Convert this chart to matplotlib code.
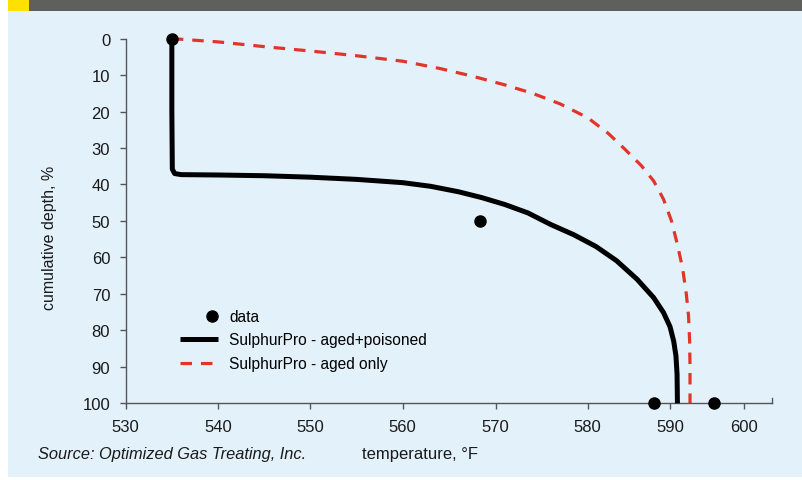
import numpy as np
import matplotlib.pyplot as plt
from matplotlib.patches import Rectangle
from matplotlib.legend_handler import HandlerLine2D

plt.rcParams['font.family'] = ['Liberation Sans', 'DejaVu Sans']

# measured points
data_temp = [535.0, 568.3, 588.0, 596.0]
data_depth = [0, 50, 100, 100]

# SulphurPro - aged+poisoned
poisoned_temp = [535.0, 535.0, 535.05, 535.3, 536, 540, 545, 550, 555, 560, 563,
                 566, 568.5, 571, 573.5, 576, 578.5, 581, 583.5, 586, 588, 589.2,
                 590.0, 590.5, 590.8, 590.95, 591.0]
poisoned_depth = [0, 20, 35.8, 37.0, 37.3, 37.4, 37.6, 38.0, 38.6, 39.5, 40.5,
                  42.0, 43.6, 45.5, 47.8, 51.0, 53.8, 57.0, 60.9, 66.0, 71.0, 75.1,
                  79.0, 83.0, 87.0, 92.0, 100]

# SulphurPro - aged only
aged_temp = [535, 540, 545, 550, 555, 560, 564, 567.5, 571, 574, 577, 580, 582.5,
             584.5, 586.5, 588, 589.2, 590.2, 591.0, 591.7, 592.2, 592.5, 592.65,
             592.7, 592.7]
aged_depth = [0, 0.9, 2.2, 3.4, 4.7, 6.2, 8.2, 10.3, 12.7, 15.0, 17.9, 21.7, 26.0,
              30.3, 34.8, 39.0, 44.0, 50.0, 56.5, 63, 70, 76, 83, 90, 100]

xticks = [530, 540, 550, 560, 570, 580, 590, 600]
yticks = [0, 10, 20, 30, 40, 50, 60, 70, 80, 90, 100]

# the original temperature axis is not evenly spaced, so map it piecewise
scale_vals = [400] + xticks + [700]
scale_pos = [125.7 - 13 * 92.3, 125.7, 218, 310.3, 402.7, 495.7, 587.7, 670, 744, 744 + 10 * 74]

def fwd(v):
    return np.interp(v, scale_vals, scale_pos)

def inv(p):
    return np.interp(p, scale_pos, scale_vals)


class RightDot(HandlerLine2D):
    # legend dot sits towards the right end of the handle
    def get_xdata(self, legend, xdescent, ydescent, width, height, fontsize):
        x = -xdescent + 0.84 * width
        return [x, x], [x]


W, H = 803, 481
fig = plt.figure(figsize=(W / 100, H / 100), dpi=100)
fig.patch.set_facecolor('white')

# background panel and header band
fig.patches.append(Rectangle((8 / W, 1 - 478 / H), (W - 8) / W, (478 - 12) / H,
                             transform=fig.transFigure, facecolor='#e3f1fb', edgecolor='none', zorder=-2))
fig.patches.append(Rectangle((29 / W, 1 - 12 / H), (W - 29) / W, 12 / H,
                             transform=fig.transFigure, facecolor='#5f5f5d', edgecolor='none', zorder=-2))
fig.patches.append(Rectangle((8 / W, 1 - 12 / H), 21 / W, 12 / H,
                             transform=fig.transFigure, facecolor='#ffe100', edgecolor='none', zorder=-2))

ax = fig.add_axes([125.7 / W, 1 - 404.3 / H, (772.3 - 125.7) / W, (404.3 - 39.6) / H])
ax.set_facecolor('none')
ax.set_xscale('function', functions=(fwd, inv))

red, = ax.plot(aged_temp, aged_depth, color='#e3342a', lw=2.3, linestyle=(0, (3.6, 2.8)),
               dash_capstyle='butt', clip_on=False, zorder=2)
blk, = ax.plot(poisoned_temp, poisoned_depth, color='black', lw=3.6,
               solid_joinstyle='round', solid_capstyle='butt', clip_on=False, zorder=3)
dots, = ax.plot(data_temp, data_depth, 'o', color='black', ms=8, linestyle='none',
                clip_on=False, zorder=4)

ax.set_xlim(530, 603.82)
ax.set_ylim(100, 0)
ax.set_xticks(xticks)
ax.set_yticks(yticks)
ax.minorticks_off()

for s in ['top', 'right']:
    ax.spines[s].set_visible(False)
for s in ['left', 'bottom']:
    ax.spines[s].set_color('#555555')
    ax.spines[s].set_linewidth(1.0)
ax.tick_params(axis='both', colors='#555555', width=1.0, length=4.2, labelcolor='#1a1a1a',
               labelsize=12)
ax.tick_params(axis='x', pad=7)
ax.tick_params(axis='y', pad=7)
# small end tick at right of x axis
ax.plot([1, 1], [0, 0.014], transform=ax.transAxes, color='#555555', lw=1.0, clip_on=False)

ax.set_ylabel('cumulative depth, %', fontsize=11.5, color='#1a1a1a', va='center')
ax.yaxis.set_label_coords((50 - 125.7) / 646.6, (404.3 - 237.5) / 364.7)
ax.set_xlabel('temperature, °F', fontsize=12, color='#1a1a1a', va='center')
ax.xaxis.set_label_coords((420 - 125.7) / 646.6, (404.3 - 455) / 364.7)

fig.text(38 / W, 1 - 455 / H, 'Source: Optimized Gas Treating, Inc.', fontsize=11.8,
         style='italic', color='#1a1a1a', ha='left', va='center')

ax.legend([dots, blk, red], ['data', 'SulphurPro - aged+poisoned', 'SulphurPro - aged only'],
          loc='center left', bbox_to_anchor=((180 - 125.7) / 646.6, (404.3 - 341) / 364.7),
          frameon=False, fontsize=11.2, handlelength=2.45, handletextpad=0.7,
          labelspacing=0.55, borderpad=0, borderaxespad=0, numpoints=1,
          handler_map={dots: RightDot()})

fig.savefig('out.png', dpi=100)
